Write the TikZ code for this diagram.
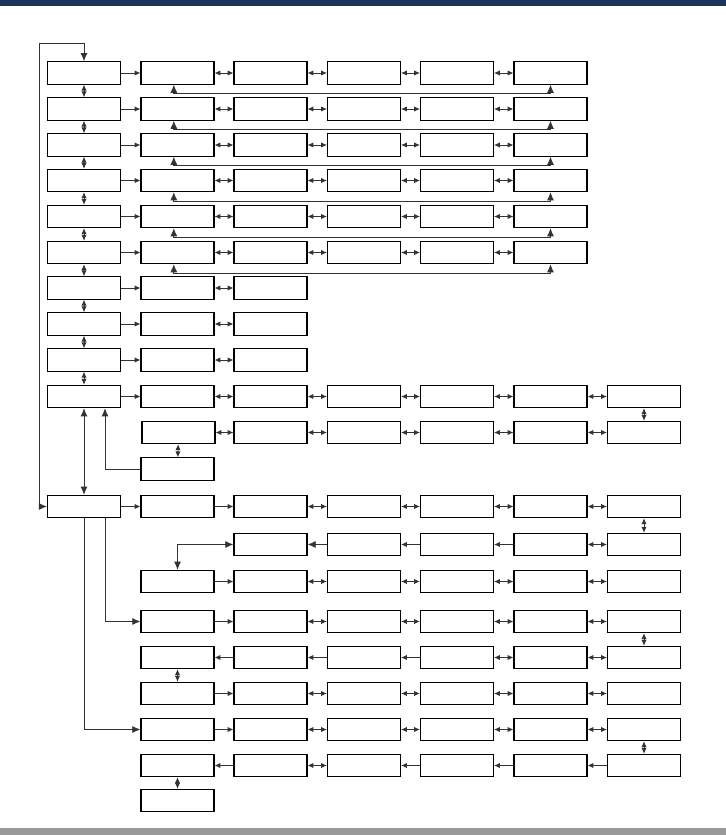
\documentclass[tikz,border=0pt]{standalone}
\usetikzlibrary{arrows.meta,positioning}
\definecolor{navybar}{RGB}{30,51,92}
\definecolor{footbar}{RGB}{153,153,153}
\tikzset{
  panel/.style={rectangle,draw=black,line width=0.9pt,minimum width=2.19cm,minimum height=0.67cm,inner sep=0pt},
  big/.style={>={Latex[length=7pt,width=6pt]}}
}
\begin{document}
\begin{tikzpicture}[x=0.03cm,y=-0.03cm,color=black!80,line width=0.75pt,>={Latex[length=5pt,width=4.5pt]}]
\useasboundingbox (0,0) rectangle (726,835);
\fill[navybar] (0,0) rectangle (726,6);
\fill[footbar] (0,828) rectangle (726,835);

\node[panel] (r1c0) at (84,73) {};
\node[panel] (r1c1) at (177.5,73) {};
\node[panel] (r1c2) at (270.5,73) {};
\node[panel] (r1c3) at (364,73) {};
\node[panel] (r1c4) at (457,73) {};
\node[panel] (r1c5) at (550.5,73) {};
\node[panel] (r2c0) at (84,109) {};
\node[panel] (r2c1) at (177.5,109) {};
\node[panel] (r2c2) at (270.5,109) {};
\node[panel] (r2c3) at (364,109) {};
\node[panel] (r2c4) at (457,109) {};
\node[panel] (r2c5) at (550.5,109) {};
\node[panel] (r3c0) at (84,145) {};
\node[panel] (r3c1) at (177.5,145) {};
\node[panel] (r3c2) at (270.5,145) {};
\node[panel] (r3c3) at (364,145) {};
\node[panel] (r3c4) at (457,145) {};
\node[panel] (r3c5) at (550.5,145) {};
\node[panel] (r4c0) at (84,180.5) {};
\node[panel] (r4c1) at (177.5,180.5) {};
\node[panel] (r4c2) at (270.5,180.5) {};
\node[panel] (r4c3) at (364,180.5) {};
\node[panel] (r4c4) at (457,180.5) {};
\node[panel] (r4c5) at (550.5,180.5) {};
\node[panel] (r5c0) at (84,216.5) {};
\node[panel] (r5c1) at (177.5,216.5) {};
\node[panel] (r5c2) at (270.5,216.5) {};
\node[panel] (r5c3) at (364,216.5) {};
\node[panel] (r5c4) at (457,216.5) {};
\node[panel] (r5c5) at (550.5,216.5) {};
\node[panel] (r6c0) at (84,252.5) {};
\node[panel] (r6c1) at (177.5,252.5) {};
\node[panel] (r6c2) at (270.5,252.5) {};
\node[panel] (r6c3) at (364,252.5) {};
\node[panel] (r6c4) at (457,252.5) {};
\node[panel] (r6c5) at (550.5,252.5) {};
\node[panel] (r7c0) at (84,288) {};
\node[panel] (r7c1) at (177.5,288) {};
\node[panel] (r7c2) at (270.5,288) {};
\node[panel] (r8c0) at (84,324) {};
\node[panel] (r8c1) at (177.5,324) {};
\node[panel] (r8c2) at (270.5,324) {};
\node[panel] (r9c0) at (84,360) {};
\node[panel] (r9c1) at (177.5,360) {};
\node[panel] (r9c2) at (270.5,360) {};
\node[panel] (r10c0) at (84,396.5) {};
\node[panel] (r10c1) at (177.5,396.5) {};
\node[panel] (r10c2) at (270.5,396.5) {};
\node[panel] (r10c3) at (364,396.5) {};
\node[panel] (r10c4) at (457,396.5) {};
\node[panel] (r10c5) at (550.5,396.5) {};
\node[panel] (r10c6) at (644,396.5) {};
\node[panel] (r11c1) at (178.5,432.5) {};
\node[panel] (r11c2) at (270.5,432.5) {};
\node[panel] (r11c3) at (364,432.5) {};
\node[panel] (r11c4) at (457,432.5) {};
\node[panel] (r11c5) at (550.5,432.5) {};
\node[panel] (r11c6) at (644,432.5) {};
\node[panel] (r12c1) at (177.5,469) {};
\node[panel] (r13c0) at (84,506.5) {};
\node[panel] (r13c1) at (177.5,506.5) {};
\node[panel] (r13c2) at (270.5,506.5) {};
\node[panel] (r13c3) at (364,506.5) {};
\node[panel] (r13c4) at (457,506.5) {};
\node[panel] (r13c5) at (550.5,506.5) {};
\node[panel] (r13c6) at (644,506.5) {};
\node[panel] (r14c2) at (270.5,544.5) {};
\node[panel] (r14c3) at (364,544.5) {};
\node[panel] (r14c4) at (457,544.5) {};
\node[panel] (r14c5) at (550.5,544.5) {};
\node[panel] (r14c6) at (644,544.5) {};
\node[panel] (r15c1) at (177.5,581.5) {};
\node[panel] (r15c2) at (270.5,581.5) {};
\node[panel] (r15c3) at (364,581.5) {};
\node[panel] (r15c4) at (457,581.5) {};
\node[panel] (r15c5) at (550.5,581.5) {};
\node[panel] (r15c6) at (644,581.5) {};
\node[panel] (r16c1) at (177.5,621.5) {};
\node[panel] (r16c2) at (270.5,621.5) {};
\node[panel] (r16c3) at (364,621.5) {};
\node[panel] (r16c4) at (457,621.5) {};
\node[panel] (r16c5) at (550.5,621.5) {};
\node[panel] (r16c6) at (644,621.5) {};
\node[panel] (r17c1) at (177.5,657.5) {};
\node[panel] (r17c2) at (270.5,657.5) {};
\node[panel] (r17c3) at (364,657.5) {};
\node[panel] (r17c4) at (457,657.5) {};
\node[panel] (r17c5) at (550.5,657.5) {};
\node[panel] (r17c6) at (644,657.5) {};
\node[panel] (r18c1) at (177.5,693.5) {};
\node[panel] (r18c2) at (270.5,693.5) {};
\node[panel] (r18c3) at (364,693.5) {};
\node[panel] (r18c4) at (457,693.5) {};
\node[panel] (r18c5) at (550.5,693.5) {};
\node[panel] (r18c6) at (644,693.5) {};
\node[panel] (r19c1) at (177.5,729.5) {};
\node[panel] (r19c2) at (270.5,729.5) {};
\node[panel] (r19c3) at (364,729.5) {};
\node[panel] (r19c4) at (457,729.5) {};
\node[panel] (r19c5) at (550.5,729.5) {};
\node[panel] (r19c6) at (644,729.5) {};
\node[panel] (r20c1) at (177.5,765.5) {};
\node[panel] (r20c2) at (270.5,765.5) {};
\node[panel] (r20c3) at (364,765.5) {};
\node[panel] (r20c4) at (457,765.5) {};
\node[panel] (r20c5) at (550.5,765.5) {};
\node[panel] (r20c6) at (644,765.5) {};
\node[panel] (r21c1) at (177.5,800.5) {};
\coordinate (loop) at (39,43);

\draw[->] (r1c0) -- (r1c1);
\draw[<->] (r1c1) -- (r1c2);
\draw[<->] (r1c2) -- (r1c3);
\draw[<->] (r1c3) -- (r1c4);
\draw[<->] (r1c4) -- (r1c5);
\draw[big,<->] ([xshift=-0.11cm]r1c1.south) -- ++(0,9) -| (r1c5.south);
\draw[->] (r2c0) -- (r2c1);
\draw[<->] (r2c1) -- (r2c2);
\draw[<->] (r2c2) -- (r2c3);
\draw[<->] (r2c3) -- (r2c4);
\draw[<->] (r2c4) -- (r2c5);
\draw[big,<->] ([xshift=-0.11cm]r2c1.south) -- ++(0,9) -| (r2c5.south);
\draw[->] (r3c0) -- (r3c1);
\draw[<->] (r3c1) -- (r3c2);
\draw[<->] (r3c2) -- (r3c3);
\draw[<->] (r3c3) -- (r3c4);
\draw[<->] (r3c4) -- (r3c5);
\draw[big,<->] ([xshift=-0.11cm]r3c1.south) -- ++(0,9) -| (r3c5.south);
\draw[->] (r4c0) -- (r4c1);
\draw[<->] (r4c1) -- (r4c2);
\draw[<->] (r4c2) -- (r4c3);
\draw[<->] (r4c3) -- (r4c4);
\draw[<->] (r4c4) -- (r4c5);
\draw[big,<->] ([xshift=-0.11cm]r4c1.south) -- ++(0,9) -| (r4c5.south);
\draw[->] (r5c0) -- (r5c1);
\draw[<->] (r5c1) -- (r5c2);
\draw[<->] (r5c2) -- (r5c3);
\draw[<->] (r5c3) -- (r5c4);
\draw[<->] (r5c4) -- (r5c5);
\draw[big,<->] ([xshift=-0.11cm]r5c1.south) -- ++(0,9) -| (r5c5.south);
\draw[->] (r6c0) -- (r6c1);
\draw[<->] (r6c1) -- (r6c2);
\draw[<->] (r6c2) -- (r6c3);
\draw[<->] (r6c3) -- (r6c4);
\draw[<->] (r6c4) -- (r6c5);
\draw[big,<->] ([xshift=-0.11cm]r6c1.south) -- ++(0,9) -| (r6c5.south);
\draw[->] (r7c0) -- (r7c1);
\draw[<->] (r7c1) -- (r7c2);
\draw[->] (r8c0) -- (r8c1);
\draw[<->] (r8c1) -- (r8c2);
\draw[->] (r9c0) -- (r9c1);
\draw[<->] (r9c1) -- (r9c2);
\draw[<->] (r1c0) -- (r2c0);
\draw[<->] (r2c0) -- (r3c0);
\draw[<->] (r3c0) -- (r4c0);
\draw[<->] (r4c0) -- (r5c0);
\draw[<->] (r5c0) -- (r6c0);
\draw[<->] (r6c0) -- (r7c0);
\draw[<->] (r7c0) -- (r8c0);
\draw[<->] (r8c0) -- (r9c0);
\draw[<->] (r9c0) -- (r10c0);

\draw[->] (r10c0) -- (r10c1);
\draw[<->] (r10c1) -- (r10c2);
\draw[<->] (r10c2) -- (r10c3);
\draw[<->] (r10c3) -- (r10c4);
\draw[<->] (r10c4) -- (r10c5);
\draw[<->] (r10c5) -- (r10c6);
\draw[<->] (r10c6) -- (r11c6);
\draw[<->] (r11c1) -- (r11c2);
\draw[<->] (r11c2) -- (r11c3);
\draw[<->] (r11c3) -- (r11c4);
\draw[<->] (r11c4) -- (r11c5);
\draw[<->] (r11c5) -- (r11c6);
\draw[<->] (r11c1) -- (r12c1);
\draw[big,->] (r12c1.west) -| ([xshift=0.63cm]r10c0.south);
\draw[big,<->] (r10c0) -- (r13c0);
\draw[big,<->] (r1c0.north) |- (loop) |- (r13c0.west);

\draw[->] (r13c0) -- (r13c1);
\draw[->] (r13c1) -- (r13c2);
\draw[<->] (r13c2) -- (r13c3);
\draw[<->] (r13c3) -- (r13c4);
\draw[<->] (r13c4) -- (r13c5);
\draw[<->] (r13c5) -- (r13c6);
\draw[<->] (r13c6) -- (r14c6);
\draw[big,->] (r14c3) -- (r14c2);
\draw[->] (r14c4) -- (r14c3);
\draw[->] (r14c5) -- (r14c4);
\draw[<->] (r14c5) -- (r14c6);
\draw[big,<->] (r14c2.west) -| (r15c1.north);
\draw[->] (r15c1) -- (r15c2);
\draw[<->] (r15c2) -- (r15c3);
\draw[<->] (r15c3) -- (r15c4);
\draw[<->] (r15c4) -- (r15c5);
\draw[<->] (r15c5) -- (r15c6);
\draw[big,->] ([xshift=0.63cm]r13c0.south) |- (r16c1.west);
\draw[->] (r16c1) -- (r16c2);
\draw[<->] (r16c2) -- (r16c3);
\draw[<->] (r16c3) -- (r16c4);
\draw[<->] (r16c4) -- (r16c5);
\draw[<->] (r16c5) -- (r16c6);
\draw[<->] (r16c6) -- (r17c6);
\draw[->] (r17c2) -- (r17c1);
\draw[->] (r17c3) -- (r17c2);
\draw[->] (r17c4) -- (r17c3);
\draw[<->] (r17c4) -- (r17c5);
\draw[<->] (r17c5) -- (r17c6);
\draw[<->] (r17c1) -- (r18c1);
\draw[->] (r18c1) -- (r18c2);
\draw[<->] (r18c2) -- (r18c3);
\draw[<->] (r18c3) -- (r18c4);
\draw[<->] (r18c4) -- (r18c5);
\draw[<->] (r18c5) -- (r18c6);
\draw[big,->] (r13c0.south) |- (r19c1.west);
\draw[->] (r19c1) -- (r19c2);
\draw[<->] (r19c2) -- (r19c3);
\draw[<->] (r19c3) -- (r19c4);
\draw[<->] (r19c4) -- (r19c5);
\draw[<->] (r19c5) -- (r19c6);
\draw[<->] (r19c6) -- (r20c6);
\draw[->] (r20c2) -- (r20c1);
\draw[<->] (r20c2) -- (r20c3);
\draw[->] (r20c4) -- (r20c3);
\draw[->] (r20c5) -- (r20c4);
\draw[->] (r20c6) -- (r20c5);
\draw[<->] (r20c1) -- (r21c1);
\end{tikzpicture}
\end{document}
